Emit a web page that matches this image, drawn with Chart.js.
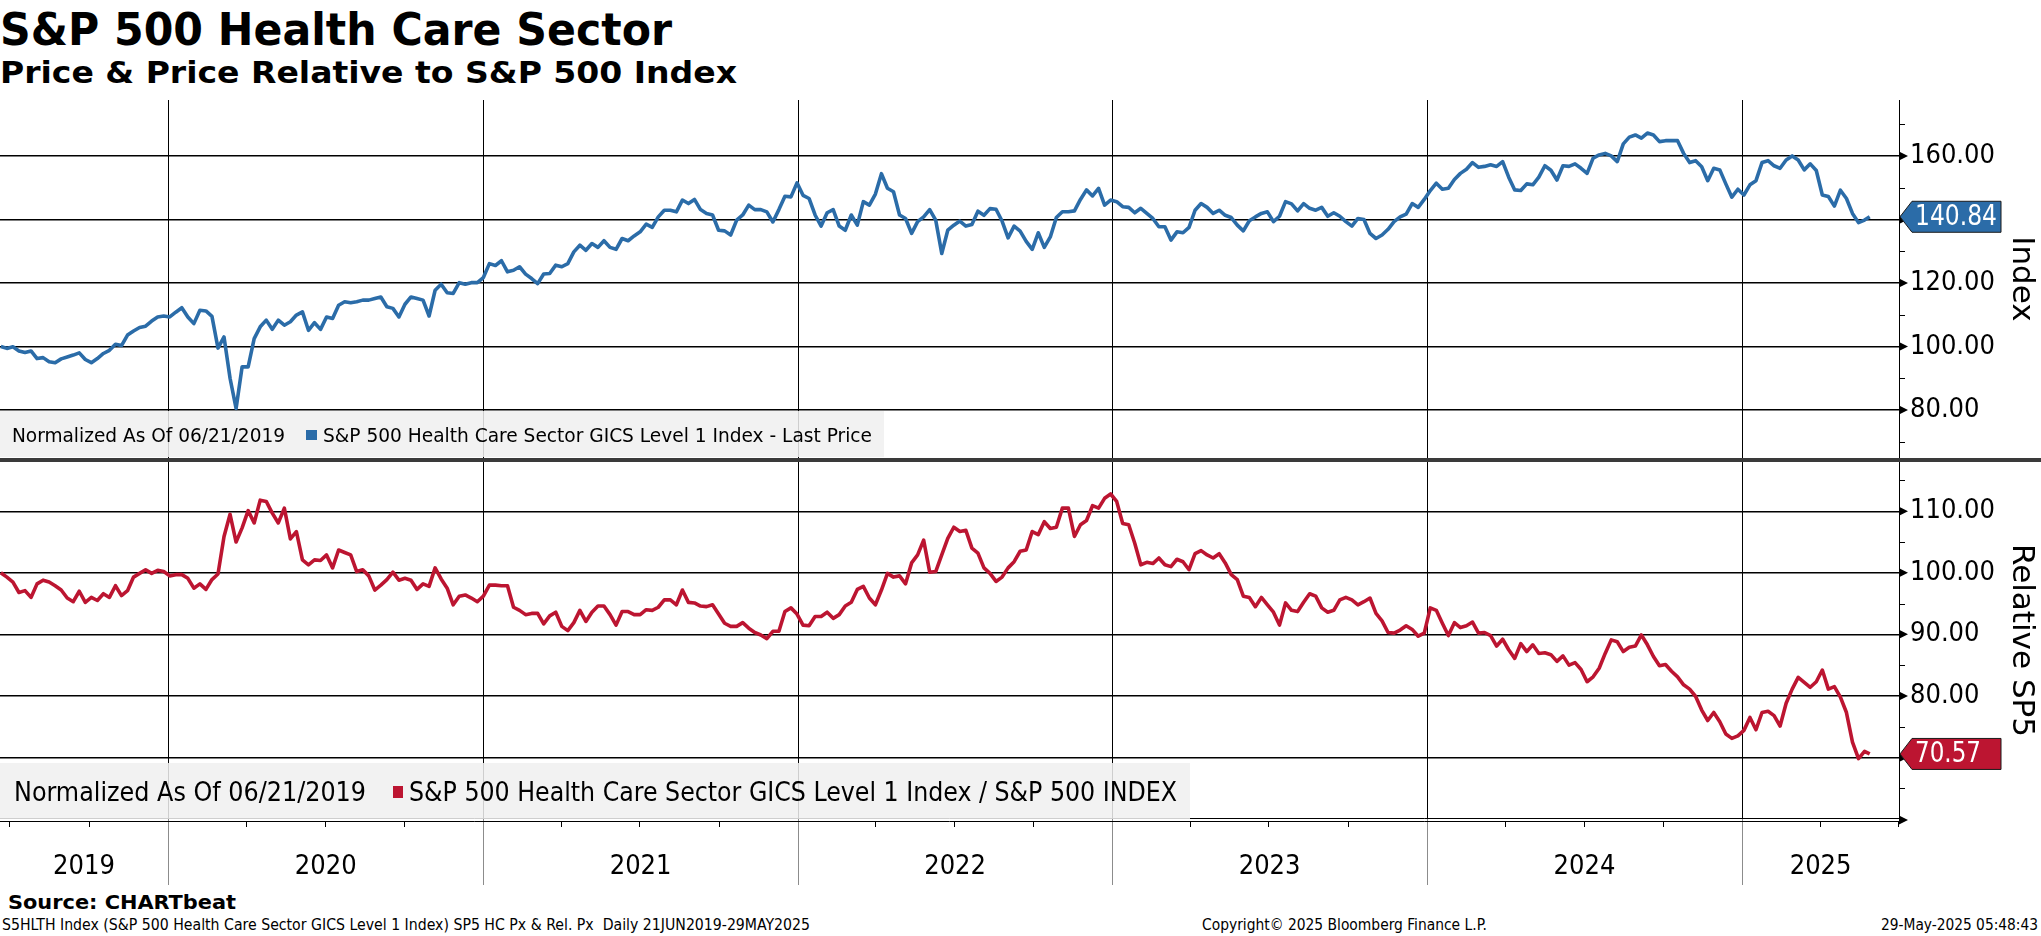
<!DOCTYPE html>
<html>
<head>
<meta charset="utf-8">
<script src="https://cdn.jsdelivr.net/npm/chart.js@4.4.1/dist/chart.umd.min.js"></script>
<style>
  body { margin: 0; background: #fff; width: 2041px; height: 936px; overflow: hidden; position: relative;
         font-family: 'DejaVu Sans Condensed', 'DejaVu Sans', sans-serif; }
  .t { position: absolute; white-space: nowrap; transform-origin: 0 0; line-height: 1; color: #000; }
  canvas { position: absolute; left: 0; }
  #sep { position: absolute; left: 0; top: 458px; width: 2041px; height: 4px; background: #3a3a3a; }
</style>
</head>
<body>
<div class="t" data-w="672" style="left:0;top:8px;font-size:44px;font-weight:bold">S&amp;P 500 Health Care Sector</div>
<div class="t" data-w="737" style="left:0;top:57px;font-size:31px;font-weight:bold">Price &amp; Price Relative to S&amp;P 500 Index</div>

<canvas id="top" width="2041" height="360" style="top:100px"></canvas>
<canvas id="bot" width="2041" height="430" style="top:460px"></canvas>
<div id="sep"></div>

<div class="t" data-w="228" style="left:8px;top:892px;font-size:20px;font-weight:bold">Source: CHARTbeat</div>
<div class="t" data-w="808" style="left:2px;top:918px;font-size:15px">S5HLTH Index (S&amp;P 500 Health Care Sector GICS Level 1 Index) SP5 HC Px &amp; Rel. Px&nbsp; Daily 21JUN2019-29MAY2025</div>
<div class="t" data-w="285" style="left:1202px;top:918px;font-size:15px">Copyright© 2025 Bloomberg Finance L.P.</div>
<div class="t" data-w="157" data-r="2038" style="top:918px;font-size:15px">29-May-2025 05:48:43</div>

<script>
const FONT = "'DejaVu Sans Condensed', 'DejaVu Sans', sans-serif";
const BLUE = '#2b6ca8';
const RED = '#bc1531';

// axis range and labels
const X_MIN = '2019-06-20';
const X_MAX = '2025-07-02';
const yearLabels = ['2019', '2020', '2021', '2022', '2023', '2024', '2025'];
const yearStarts = ['2020-01-01', '2021-01-01', '2022-01-01', '2023-01-01', '2024-01-01', '2025-01-01'];
const quarterTicks = ['2019-07-01', '2019-10-01', '2020-04-01', '2020-07-01', '2020-10-01', '2021-04-01',
  '2021-07-01', '2021-10-01', '2022-04-01', '2022-07-01', '2022-10-01', '2023-04-01', '2023-07-01',
  '2023-10-01', '2024-04-01', '2024-07-01', '2024-10-01', '2025-04-01', '2025-07-01'];
const priceTicks = [80, 100, 120, 140, 160];
const priceMinor = [70, 90, 110, 130, 150, 170];
const relTicks = [70, 80, 90, 100, 110];
const relMinor = [65, 75, 85, 95, 105, 115];

// weekly closes (Fridays), normalized to 100 on 06/21/2019
const dates = [
  '2019-06-21','2019-06-28','2019-07-05','2019-07-12','2019-07-19','2019-07-26','2019-08-02','2019-08-09','2019-08-16','2019-08-23','2019-08-30','2019-09-06','2019-09-13','2019-09-20','2019-09-27','2019-10-04','2019-10-11','2019-10-18','2019-10-25','2019-11-01','2019-11-08','2019-11-15','2019-11-22','2019-11-29','2019-12-06','2019-12-13','2019-12-20','2019-12-27',
  '2020-01-03','2020-01-10','2020-01-17','2020-01-24','2020-01-31','2020-02-07','2020-02-14','2020-02-21','2020-02-28','2020-03-06','2020-03-13','2020-03-20','2020-03-27','2020-04-03','2020-04-10','2020-04-17','2020-04-24','2020-05-01','2020-05-08','2020-05-15','2020-05-22','2020-05-29','2020-06-05','2020-06-12','2020-06-19','2020-06-26','2020-07-03','2020-07-10','2020-07-17','2020-07-24','2020-07-31','2020-08-07','2020-08-14','2020-08-21','2020-08-28','2020-09-04','2020-09-11','2020-09-18','2020-09-25','2020-10-02','2020-10-09','2020-10-16','2020-10-23','2020-10-30','2020-11-06','2020-11-13','2020-11-20','2020-11-27','2020-12-04','2020-12-11','2020-12-18','2020-12-25',
  '2021-01-01','2021-01-08','2021-01-15','2021-01-22','2021-01-29','2021-02-05','2021-02-12','2021-02-19','2021-02-26','2021-03-05','2021-03-12','2021-03-19','2021-03-26','2021-04-02','2021-04-09','2021-04-16','2021-04-23','2021-04-30','2021-05-07','2021-05-14','2021-05-21','2021-05-28','2021-06-04','2021-06-11','2021-06-18','2021-06-25','2021-07-02','2021-07-09','2021-07-16','2021-07-23','2021-07-30','2021-08-06','2021-08-13','2021-08-20','2021-08-27','2021-09-03','2021-09-10','2021-09-17','2021-09-24','2021-10-01','2021-10-08','2021-10-15','2021-10-22','2021-10-29','2021-11-05','2021-11-12','2021-11-19','2021-11-26','2021-12-03','2021-12-10','2021-12-17','2021-12-24','2021-12-31',
  '2022-01-07','2022-01-14','2022-01-21','2022-01-28','2022-02-04','2022-02-11','2022-02-18','2022-02-25','2022-03-04','2022-03-11','2022-03-18','2022-03-25','2022-04-01','2022-04-08','2022-04-15','2022-04-22','2022-04-29','2022-05-06','2022-05-13','2022-05-20','2022-05-27','2022-06-03','2022-06-10','2022-06-17','2022-06-24','2022-07-01','2022-07-08','2022-07-15','2022-07-22','2022-07-29','2022-08-05','2022-08-12','2022-08-19','2022-08-26','2022-09-02','2022-09-09','2022-09-16','2022-09-23','2022-09-30','2022-10-07','2022-10-14','2022-10-21','2022-10-28','2022-11-04','2022-11-11','2022-11-18','2022-11-25','2022-12-02','2022-12-09','2022-12-16','2022-12-23','2022-12-30',
  '2023-01-06','2023-01-13','2023-01-20','2023-01-27','2023-02-03','2023-02-10','2023-02-17','2023-02-24','2023-03-03','2023-03-10','2023-03-17','2023-03-24','2023-03-31','2023-04-07','2023-04-14','2023-04-21','2023-04-28','2023-05-05','2023-05-12','2023-05-19','2023-05-26','2023-06-02','2023-06-09','2023-06-16','2023-06-23','2023-06-30','2023-07-07','2023-07-14','2023-07-21','2023-07-28','2023-08-04','2023-08-11','2023-08-18','2023-08-25','2023-09-01','2023-09-08','2023-09-15','2023-09-22','2023-09-29','2023-10-06','2023-10-13','2023-10-20','2023-10-27','2023-11-03','2023-11-10','2023-11-17','2023-11-24','2023-12-01','2023-12-08','2023-12-15','2023-12-22','2023-12-29',
  '2024-01-05','2024-01-12','2024-01-19','2024-01-26','2024-02-02','2024-02-09','2024-02-16','2024-02-23','2024-03-01','2024-03-08','2024-03-15','2024-03-22','2024-03-29','2024-04-05','2024-04-12','2024-04-19','2024-04-26','2024-05-03','2024-05-10','2024-05-17','2024-05-24','2024-05-31','2024-06-07','2024-06-14','2024-06-21','2024-06-28','2024-07-05','2024-07-12','2024-07-19','2024-07-26','2024-08-02','2024-08-09','2024-08-16','2024-08-23','2024-08-30','2024-09-06','2024-09-13','2024-09-20','2024-09-27','2024-10-04','2024-10-11','2024-10-18','2024-10-25','2024-11-01','2024-11-08','2024-11-15','2024-11-22','2024-11-29','2024-12-06','2024-12-13','2024-12-20','2024-12-27',
  '2025-01-03','2025-01-10','2025-01-17','2025-01-24','2025-01-31','2025-02-07','2025-02-14','2025-02-21','2025-02-28','2025-03-07','2025-03-14','2025-03-21','2025-03-28','2025-04-04','2025-04-11','2025-04-18','2025-04-25','2025-05-02','2025-05-09','2025-05-16','2025-05-23','2025-05-29'
];

const priceIdx = [
  100.0, 99.4, 99.9, 98.6, 98.1, 98.6, 96.2, 96.5, 95.2, 94.9, 96.1, 96.7, 97.3, 98.0, 95.9, 94.9, 96.2, 97.8, 98.8, 100.7, 100.3, 103.6, 104.9, 106.0, 106.4, 108.0, 109.3, 109.6,
  109.3, 110.8, 112.2, 109.3, 107.2, 111.4, 111.2, 109.5, 99.5, 103.0, 90.0, 80.5, 93.6, 93.6, 102.5, 106.2, 108.3, 105.4, 108.3, 106.7, 107.8, 109.9, 110.9, 105.1, 107.5, 105.4, 109.3, 108.8, 113.0, 114.1, 113.8, 114.1, 114.6, 114.6, 115.1, 115.6, 112.5, 112.0, 109.3, 113.3, 115.6, 115.1, 114.6, 109.6, 117.7, 119.6, 116.9, 116.7, 120.1, 119.6, 120.1, 120.1,
  121.7, 126.1, 125.5, 127.0, 123.5, 124.0, 125.1, 122.8, 121.4, 119.8, 122.8, 123.0, 125.6, 125.1, 126.1, 129.8, 131.9, 130.3, 132.4, 131.2, 133.3, 131.2, 130.6, 134.0, 133.3, 134.8, 136.1, 138.5, 137.5, 140.8, 142.9, 142.9, 142.4, 146.1, 145.0, 146.3, 143.1, 141.9, 141.4, 136.6, 136.4, 135.1, 139.8, 141.4, 144.5, 143.1, 143.1, 142.4, 139.2, 143.1, 147.3, 147.1, 151.5,
  147.6, 146.6, 141.4, 137.9, 142.1, 143.1, 137.9, 136.6, 141.4, 138.2, 145.6, 144.5, 148.0, 154.4, 149.8, 148.7, 141.4, 140.3, 135.6, 139.3, 140.8, 143.1, 139.8, 129.3, 136.6, 138.2, 139.5, 137.9, 138.4, 142.6, 141.3, 143.4, 143.2, 139.5, 134.2, 137.9, 136.3, 133.1, 130.6, 135.8, 131.2, 134.5, 140.6, 142.4, 142.4, 142.7, 146.3, 149.3, 147.4, 149.8, 144.5, 146.1,
  145.6, 144.0, 143.8, 142.1, 143.5, 141.9, 140.3, 137.7, 137.7, 133.5, 136.1, 135.8, 137.5, 142.9, 145.0, 143.8, 141.9, 142.9, 141.3, 140.6, 138.2, 136.4, 139.6, 140.8, 141.9, 142.4, 139.3, 141.0, 145.6, 144.9, 142.7, 145.0, 143.5, 142.9, 143.8, 141.0, 142.1, 141.0, 139.3, 137.9, 140.3, 140.0, 135.6, 134.0, 135.1, 136.9, 139.3, 140.8, 141.7, 145.0, 143.8, 146.3,
  149.1, 151.4, 149.5, 149.8, 152.6, 154.5, 155.8, 157.9, 156.4, 156.7, 157.2, 156.7, 158.2, 153.3, 149.3, 149.1, 151.2, 150.9, 153.3, 156.9, 155.5, 152.4, 156.9, 156.7, 157.5, 156.1, 154.5, 159.3, 160.3, 160.8, 160.0, 158.2, 163.8, 165.9, 166.6, 165.6, 167.2, 166.6, 164.5, 164.8, 164.8, 164.8, 160.8, 157.9, 158.5, 156.6, 152.2, 156.1, 155.6, 151.2, 147.0, 149.5,
  147.7, 150.9, 152.2, 157.9, 158.5, 156.9, 156.1, 158.7, 160.0, 158.7, 155.6, 157.5, 155.4, 147.7, 147.2, 144.2, 149.2, 146.6, 141.9, 139.0, 139.8, 140.84
];

const relSp5 = [
  100.0, 99.3, 98.5, 96.8, 97.1, 96.0, 98.2, 98.8, 98.5, 97.9, 97.2, 95.9, 95.3, 97.0, 95.2, 96.0, 95.5, 96.6, 96.0, 97.9, 96.3, 97.1, 99.3, 99.9, 100.5, 99.9, 100.4, 100.2,
  99.5, 99.7, 99.7, 99.1, 97.5, 98.2, 97.3, 98.9, 99.8, 105.9, 109.5, 105.0, 107.3, 110.1, 108.1, 111.8, 111.6, 109.7, 108.1, 110.5, 105.5, 106.7, 102.1, 101.3, 102.1, 102.0, 102.9, 100.8, 103.7, 103.3, 102.9, 100.2, 100.5, 99.5, 97.2, 98.0, 98.9, 100.1, 98.8, 99.1, 98.8, 97.3, 98.2, 97.8, 100.8, 99.0, 97.5, 94.8, 96.2, 96.4, 95.9, 95.3,
  96.2, 98.0, 98.0, 97.9, 97.9, 94.4, 93.9, 93.2, 93.4, 93.4, 91.7, 93.0, 93.6, 91.3, 90.6, 91.9, 93.9, 92.1, 93.6, 94.6, 94.6, 93.2, 91.5, 93.7, 93.7, 93.2, 93.2, 94.0, 93.9, 94.4, 95.6, 95.6, 94.8, 97.2, 95.2, 95.1, 94.6, 94.5, 94.8, 93.3, 91.8, 91.3, 91.3, 91.9, 91.0, 90.3, 89.9, 89.3, 90.5, 90.5, 93.7, 94.3, 93.3,
  91.5, 91.4, 92.9, 92.9, 93.6, 92.6, 93.2, 94.6, 95.2, 97.3, 97.8, 95.9, 94.8, 97.2, 99.9, 99.3, 99.5, 98.2, 101.6, 102.9, 105.3, 100.1, 100.2, 102.9, 105.6, 107.4, 106.7, 106.9, 104.0, 103.2, 100.8, 99.9, 98.6, 99.3, 100.8, 101.8, 103.5, 103.7, 106.7, 106.2, 108.3, 107.2, 107.4, 110.5, 110.5, 105.9, 107.8, 108.5, 110.9, 110.5, 112.1, 112.8,
  111.6, 108.0, 107.8, 104.8, 101.3, 101.7, 101.5, 102.4, 101.3, 101.0, 102.2, 101.8, 100.5, 103.1, 103.6, 102.9, 102.4, 103.1, 101.6, 99.7, 98.9, 96.2, 96.0, 94.5, 96.0, 94.8, 93.6, 91.5, 95.1, 93.9, 93.7, 95.2, 96.6, 96.2, 94.3, 93.6, 93.9, 95.6, 96.0, 95.6, 94.8, 95.3, 95.9, 93.4, 92.2, 90.3, 90.2, 90.7, 91.4, 90.8, 89.7, 90.2,
  94.3, 93.9, 91.8, 89.8, 91.9, 91.1, 91.4, 92.0, 90.2, 90.3, 89.8, 88.1, 89.2, 87.5, 86.1, 88.5, 87.2, 88.3, 86.9, 87.0, 86.7, 85.6, 86.5, 85.0, 85.4, 84.3, 82.3, 83.1, 84.5, 86.9, 89.1, 88.8, 87.2, 87.9, 88.1, 89.9, 88.3, 86.4, 84.9, 85.1, 84.0, 83.1, 81.8, 81.1, 79.9, 77.7, 76.0, 77.3, 75.8, 73.8, 73.1, 73.5,
  74.4, 76.5, 74.5, 77.3, 77.5, 76.8, 75.1, 78.8, 81.1, 83.0, 82.2, 81.4, 82.3, 84.2, 81.1, 81.5, 79.8, 77.3, 72.5, 69.8, 71.0, 70.57
];

const toMs = s => Date.UTC(+s.slice(0, 4), +s.slice(5, 7) - 1, +s.slice(8, 10));

// stretch the html labels to the measured widths of the original
document.querySelectorAll('.t').forEach(el => {
  const w = +el.dataset.w;
  const m = el.getBoundingClientRect().width;
  el.style.transform = `scaleX(${w / m})`;
  if (el.dataset.r) el.style.left = (+el.dataset.r - w) + 'px';
});

function fitText(ctx, text, x, y, w) {
  const m = ctx.measureText(text).width;
  ctx.save();
  ctx.translate(x, y);
  ctx.scale(w / m, 1);
  ctx.fillText(text, 0, 0);
  ctx.restore();
}

function arrow(ctx, x, y) {
  ctx.beginPath();
  ctx.moveTo(x, y - 4.5);
  ctx.lineTo(x + 9, y);
  ctx.lineTo(x, y + 4.5);
  ctx.closePath();
  ctx.fill();
}

function hline(ctx, x1, x2, y) {
  ctx.beginPath();
  ctx.moveTo(x1, y);
  ctx.lineTo(x2, y);
  ctx.stroke();
}

const deco = {
  id: 'deco',
  beforeDatasetsDraw(chart, args, o) {
    const { ctx, chartArea: a, scales: { x } } = chart;
    ctx.save();
    yearStarts.forEach(d => {
      const px = Math.round(x.getPixelForValue(toMs(d))) + 0.5;
      ctx.strokeStyle = '#000';
      ctx.lineWidth = 1;
      ctx.beginPath();
      ctx.moveTo(px, a.top);
      ctx.lineTo(px, a.bottom);
      ctx.stroke();
      if (o.below) {
        ctx.strokeStyle = '#8c8c8c';
        ctx.beginPath();
        ctx.moveTo(px, a.bottom);
        ctx.lineTo(px, a.bottom + o.below);
        ctx.stroke();
      }
    });
    ctx.restore();
  },
  afterDatasetsDraw(chart, args, o) {
    const { ctx, chartArea: a, scales: { x, y } } = chart;
    ctx.save();
    ctx.fillStyle = '#000';
    ctx.strokeStyle = '#000';
    ctx.lineWidth = 1;

    // minor ticks + arrow heads on the right axis
    o.minor.forEach(v => hline(ctx, a.right, a.right + 6, Math.round(y.getPixelForValue(v)) + 0.5));
    o.major.forEach(v => arrow(ctx, a.right, y.getPixelForValue(v)));

    // bottom axis of the lower panel
    if (o.axis) {
      hline(ctx, 0, a.right, a.bottom - 0.5);
      hline(ctx, 0, a.right, a.bottom + 2.5);
      arrow(ctx, a.right, a.bottom + 1);
      quarterTicks.forEach(d => {
        const px = Math.round(x.getPixelForValue(toMs(d))) + 0.5;
        ctx.beginPath();
        ctx.moveTo(px, a.bottom + 3);
        ctx.lineTo(px, a.bottom + 8);
        ctx.stroke();
      });
    }

    // legend strip
    const L = o.legend;
    ctx.fillStyle = 'rgba(240,240,240,0.86)';
    ctx.fillRect(0, L.top, L.width, L.height);
    ctx.fillStyle = '#000';
    ctx.font = `${L.size}px ${FONT}`;
    fitText(ctx, 'Normalized As Of 06/21/2019', L.x1, L.base, L.w1);
    ctx.fillStyle = o.color;
    ctx.fillRect(L.sq[0], L.sq[1], L.sq[2], L.sq[3]);
    ctx.fillStyle = '#000';
    fitText(ctx, L.name, L.x2, L.base, L.w2);

    // last value tag
    const last = o.values[o.values.length - 1];
    const cy = y.getPixelForValue(last);
    ctx.beginPath();
    ctx.moveTo(a.right + 1, cy);
    ctx.lineTo(a.right + 13, cy - 15.5);
    ctx.lineTo(2001, cy - 15.5);
    ctx.lineTo(2001, cy + 15.5);
    ctx.lineTo(a.right + 13, cy + 15.5);
    ctx.closePath();
    ctx.fillStyle = o.color;
    ctx.fill();
    ctx.strokeStyle = '#1b1b1b';
    ctx.stroke();
    ctx.fillStyle = '#fff';
    ctx.font = `28px ${FONT}`;
    ctx.textBaseline = 'middle';
    fitText(ctx, last.toFixed(2), 1915, cy + 1, last >= 100 ? 82 : 66);

    // axis title, turned clockwise
    ctx.translate(2021, (a.top + a.bottom) / 2);
    ctx.rotate(Math.PI / 2);
    ctx.fillStyle = '#000';
    ctx.font = "31px 'DejaVu Sans', sans-serif";
    ctx.textAlign = 'center';
    ctx.textBaseline = 'middle';
    ctx.fillText(o.title, 0, 0);
    ctx.restore();
  }
};

const xMin = toMs(X_MIN), xMax = toMs(X_MAX);
const bounds = [xMin, ...yearStarts.map(toMs), xMax];
const yearMids = yearLabels.map((_, i) => (bounds[i] + bounds[i + 1]) / 2);

function yAxis(min, max, ticks) {
  return {
    position: 'right', min, max, bounds: 'data',
    afterBuildTicks: s => { s.ticks = ticks.map(v => ({ value: v })); },
    afterFit: s => { s.width = 142; s.paddingTop = 0; s.paddingBottom = 0; },
    grid: { color: '#000', lineWidth: 1.4, drawTicks: false },
    border: { display: true, color: '#000', width: 1 },
    ticks: { autoSkip: false, padding: 11, color: '#000', font: { family: FONT, size: 27 },
             callback: v => v.toFixed(2) }
  };
}

function lineSet(values, color) {
  return {
    data: dates.map((d, i) => ({ x: toMs(d), y: values[i] })),
    borderColor: color, borderWidth: 3.6, pointRadius: 0, tension: 0,
    borderJoinStyle: 'round', fill: false
  };
}

new Chart(document.getElementById('top'), {
  type: 'line',
  data: { datasets: [lineSet(priceIdx, BLUE)] },
  options: {
    responsive: false, animation: false, devicePixelRatio: 1,
    layout: { padding: { left: 0, right: 0, top: 0, bottom: 2 } },
    scales: {
      x: { type: 'linear', min: xMin, max: xMax, bounds: 'data', display: false },
      y: yAxis(64.9, 177.6, priceTicks)
    },
    plugins: {
      legend: { display: false }, tooltip: { enabled: false },
      deco: {
        title: 'Index', color: BLUE, values: priceIdx, major: priceTicks, minor: priceMinor, below: 0, axis: false,
        legend: { top: 311, width: 884, height: 46, size: 20, base: 342, x1: 12, w1: 273,
                  sq: [306, 330, 11, 10], x2: 323, w2: 549,
                  name: 'S&P 500 Health Care Sector GICS Level 1 Index - Last Price' }
      }
    }
  },
  plugins: [deco]
});

new Chart(document.getElementById('bot'), {
  type: 'line',
  data: { datasets: [lineSet(relSp5, RED)] },
  options: {
    responsive: false, animation: false, devicePixelRatio: 1,
    layout: { padding: { left: 0, right: 0, top: 2, bottom: 0 } },
    scales: {
      x: {
        type: 'linear', min: xMin, max: xMax, bounds: 'data', position: 'bottom',
        afterBuildTicks: s => { s.ticks = yearMids.map(v => ({ value: v })); },
        afterFit: s => { s.height = 71; s.paddingLeft = 0; s.paddingRight = 0; },
        grid: { display: false, drawTicks: false },
        border: { display: false },
        ticks: { autoSkip: false, maxRotation: 0, padding: 32, color: '#000',
                 font: { family: FONT, size: 27 }, callback: (v, i) => yearLabels[i] }
      },
      y: yAxis(60, 118, relTicks)
    },
    plugins: {
      legend: { display: false }, tooltip: { enabled: false },
      deco: {
        title: 'Relative SP5', color: RED, values: relSp5, major: relTicks, minor: relMinor, below: 66, axis: true,
        legend: { top: 303, width: 1190, height: 56, size: 26, base: 341, x1: 14, w1: 352,
                  sq: [393, 326, 10, 12], x2: 409, w2: 768,
                  name: 'S&P 500 Health Care Sector GICS Level 1 Index / S&P 500 INDEX' }
      }
    }
  },
  plugins: [deco]
});
</script>
</body>
</html>
